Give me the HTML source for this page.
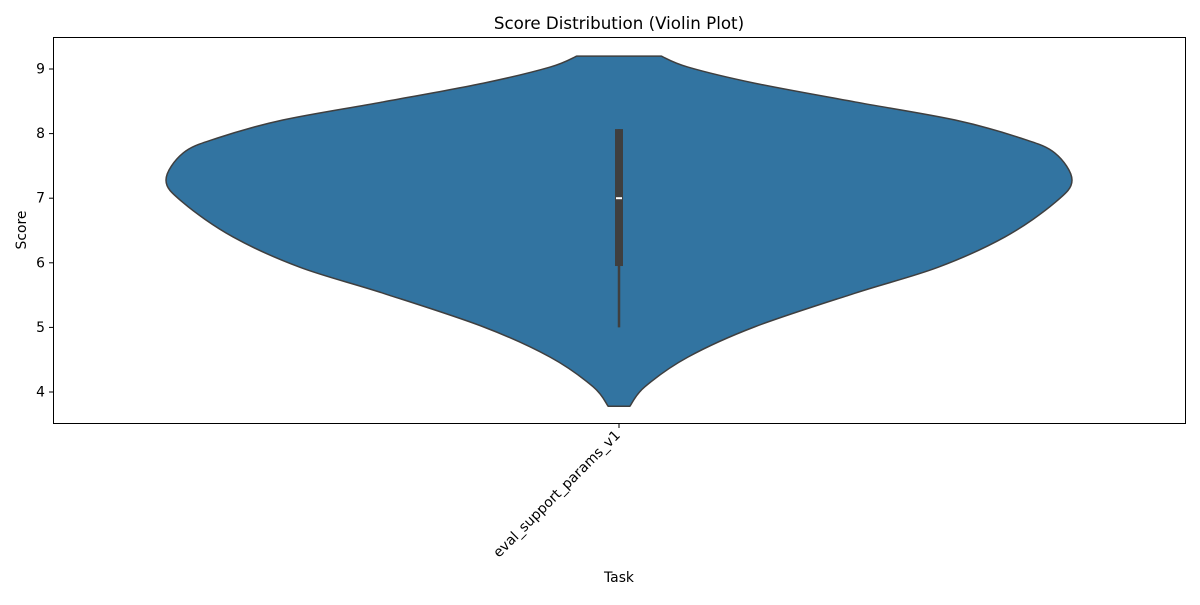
<!DOCTYPE html>
<html><head><meta charset="utf-8"><style>
body{margin:0;background:#fff}
text{font-family:"DejaVu Sans","Liberation Sans",sans-serif;fill:#000}
</style></head><body>
<svg id="chart" width="1200" height="600" xmlns="http://www.w3.org/2000/svg">
<rect x="0" y="0" width="1200" height="600" fill="#fff"/>
<text x="619" y="29" font-size="16.7" text-anchor="middle">Score Distribution (Violin Plot)</text>
<g id="violin"></g>
<rect x="53.5" y="37.5" width="1132" height="386" fill="none" stroke="#000" stroke-width="1"/>
<g id="yticks"></g>
<g id="xticks"></g>
<text x="619" y="582" font-size="13.9" text-anchor="middle">Task</text>
<text transform="translate(26,230) rotate(-90)" font-size="13.9" text-anchor="middle">Score</text>
</svg>
<script>
const categories = ["eval_support_params_v1"];
const yTickValues = [4,5,6,7,8,9];
const kdeScores = [9.2,9.03,8.78,8.49,8.21,7.93,7.70,7.28,6.93,6.40,5.93,5.53,5.01,4.54,4.08,3.78];
const kdeDensity = [0.093,0.152,0.300,0.521,0.742,0.887,0.962,1.0,0.962,0.852,0.704,0.521,0.300,0.152,0.057,0.024];
const q1 = [5.95], median = [7.0], q3 = [8.07], whiskerLow = [5.0], whiskerHigh = [8.07];

const NS="http://www.w3.org/2000/svg";
const plotL=53,plotR=1185;
const yScale=v=>392-(v-4)*64.6;
const xScale=i=>plotL+(plotR-plotL)*(i+0.5)/categories.length;
const maxHalf=453;
function mk(tag,attrs,parent){const e=document.createElementNS(NS,tag);for(const k in attrs)e.setAttribute(k,attrs[k]);parent.appendChild(e);return e;}

const yt=document.getElementById('yticks');
yTickValues.forEach(v=>{
  const y=yScale(v);
  const l=mk('line',{x1:plotL-4,x2:plotL,y1:y,y2:y,stroke:'#000'},yt);
  
  
  const t=mk('text',{x:plotL-8,y:y+4.5,'font-size':13.9,'text-anchor':'end'},yt);
  t.textContent=v;
  
  
});

const xt=document.getElementById('xticks');
const vg=document.getElementById('violin');
categories.forEach((c,i)=>{
  const cx=xScale(i);
  const tk=mk('line',{x1:cx,x2:cx,y1:424,y2:428,stroke:'#000'},xt);
  
  
  const t=mk('text',{transform:`translate(${cx+2},${436}) rotate(-45)`,'font-size':13.9,'text-anchor':'end'},xt);
  t.textContent=c;
  
  

  const right=kdeScores.map((s,k)=>[cx+kdeDensity[k]*maxHalf,yScale(s)]);
  const left=kdeScores.map((s,k)=>[cx-kdeDensity[k]*maxHalf,yScale(s)]).reverse();
  function smooth(pts){let d='';for(let k=0;k<pts.length-1;k++){const p0=pts[Math.max(k-1,0)],p1=pts[k],p2=pts[k+1],p3=pts[Math.min(k+2,pts.length-1)];
    const c1=[p1[0]+(p2[0]-p0[0])/6,p1[1]+(p2[1]-p0[1])/6],c2=[p2[0]-(p3[0]-p1[0])/6,p2[1]-(p3[1]-p1[1])/6];
    d+=` C${c1[0]},${c1[1]} ${c2[0]},${c2[1]} ${p2[0]},${p2[1]}`;}return d;}
  let d=`M${right[0][0]},${right[0][1]}`+smooth(right)+` L${left[0][0]},${left[0][1]}`+smooth(left)+' Z';
  const p=mk('path',{d:d,fill:'#3274a1',stroke:'#3f3f3f','stroke-width':1.5},vg);
  
  

  const w=mk('line',{x1:cx,x2:cx,y1:yScale(whiskerLow[i]),y2:yScale(whiskerHigh[i]),stroke:'#3f3f3f','stroke-width':2.5},vg);
  
  
  const b=mk('rect',{x:cx-4,y:yScale(q3[i]),width:8,height:yScale(q1[i])-yScale(q3[i]),fill:'#3f3f3f'},vg);
  
  
  const m=mk('line',{x1:cx-3,x2:cx+3,y1:yScale(median[i]),y2:yScale(median[i]),stroke:'#fff','stroke-width':2},vg);
  
  
});
</script>
</body></html>
